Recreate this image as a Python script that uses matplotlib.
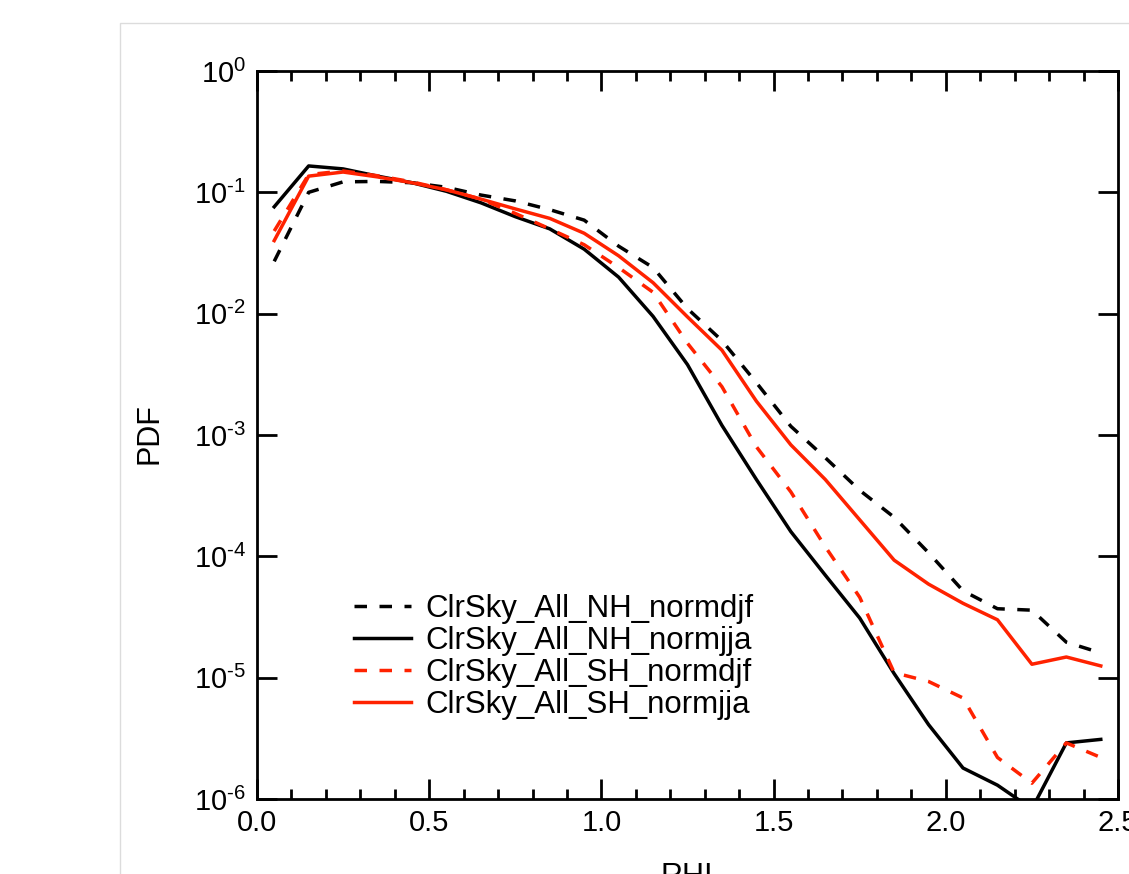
import matplotlib
matplotlib.use("Agg")
import matplotlib.pyplot as plt
from matplotlib.patches import Rectangle
from matplotlib.ticker import FixedLocator, MultipleLocator, FixedFormatter

plt.rcParams['font.family'] = ['Liberation Sans', 'DejaVu Sans']
plt.rcParams['mathtext.fontset'] = 'custom'
plt.rcParams['mathtext.rm'] = 'Liberation Sans'
plt.rcParams['mathtext.it'] = 'Liberation Sans:italic'
plt.rcParams['mathtext.bf'] = 'Liberation Sans:bold'

# ---- data ----
rhi = [0.05, 0.15, 0.25, 0.35, 0.45, 0.55, 0.65, 0.75, 0.85, 0.95,
       1.05, 1.15, 1.25, 1.35, 1.45, 1.55, 1.65, 1.75, 1.85, 1.95,
       2.05, 2.15, 2.25, 2.35, 2.45]

nh_djf = [0.027, 0.10, 0.122, 0.123, 0.12, 0.11, 0.095, 0.085, 0.072, 0.059,
          0.036, 0.024, 0.011, 0.0060, 0.0027, 0.00118, 0.00065, 0.00035, 0.00021, 0.000107,
          5.2e-5, 3.7e-5, 3.6e-5, 1.96e-5, 1.6e-5]
nh_jja = [0.076, 0.165, 0.156, 0.136, 0.12, 0.102, 0.082, 0.063, 0.050, 0.034,
          0.020, 0.0095, 0.0038, 0.0012, 0.00043, 0.00016, 7.0e-5, 3.1e-5, 1.08e-5, 4.1e-6,
          1.8e-6, 1.3e-6, 8.3e-7, 2.9e-6, 3.1e-6]
sh_djf = [0.048, 0.14, 0.15, 0.137, 0.122, 0.105, 0.088, 0.067, 0.050, 0.037,
          0.024, 0.015, 0.0057, 0.0025, 0.0008, 0.00034, 0.00012, 4.6e-5, 1.1e-5, 9.3e-6,
          6.8e-6, 2.2e-6, 1.35e-6, 2.9e-6, 2.2e-6]
sh_jja = [0.040, 0.136, 0.147, 0.134, 0.12, 0.105, 0.088, 0.073, 0.061, 0.046,
          0.030, 0.018, 0.0094, 0.0050, 0.0019, 0.00083, 0.00043, 0.00020, 9.3e-5, 5.9e-5,
          4.1e-5, 3.0e-5, 1.29e-5, 1.48e-5, 1.25e-5]

labels = ['ClrSky_All_NH_normdjf', 'ClrSky_All_NH_normjja',
          'ClrSky_All_SH_normdjf', 'ClrSky_All_SH_normjja']
xticks = [0.0, 0.5, 1.0, 1.5, 2.0, 2.5]
xticklabels = ['0.0', '0.5', '1.0', '1.5', '2.0', '2.5']
yticks = [1e-6, 1e-5, 1e-4, 1e-3, 1e-2, 1e-1, 1e0]
yticklabels = [r'$10^{\text{-}6}$', r'$10^{\text{-}5}$', r'$10^{\text{-}4}$',
               r'$10^{\text{-}3}$', r'$10^{\text{-}2}$', r'$10^{\text{-}1}$',
               r'$10^{0}$']

RED = '#ff2200'

fig = plt.figure(figsize=(11.29, 8.74), dpi=100)
# light page border (extends beyond the visible canvas)
fig.patches.append(Rectangle((120/1129, -0.2), 1.0, 0.2 + 1 - 23/874,
                             transform=fig.transFigure, fill=False,
                             edgecolor='#dcdcdc', linewidth=1.0))

ax = fig.add_axes([257/1129, 1 - 799/874, (1118-257)/1129, (799-71)/874])

lw = 2.5
dash = (0, (3.6, 3.6))
ax.plot(rhi, nh_djf, color='black', lw=lw, linestyle=dash, label=labels[0])
ax.plot(rhi, nh_jja, color='black', lw=lw, label=labels[1])
ax.plot(rhi, sh_djf, color=RED, lw=lw, linestyle=dash, label=labels[2])
ax.plot(rhi, sh_jja, color=RED, lw=lw, label=labels[3])

ax.set_yscale('log')
ax.set_xlim(0, 2.5)
ax.set_ylim(1e-6, 1e0)

ax.xaxis.set_major_locator(FixedLocator(xticks))
ax.xaxis.set_major_formatter(FixedFormatter(xticklabels))
ax.xaxis.set_minor_locator(MultipleLocator(0.1))
ax.yaxis.set_major_locator(FixedLocator(yticks))
ax.yaxis.set_major_formatter(FixedFormatter(yticklabels))
ax.yaxis.set_minor_locator(FixedLocator([]))

for sp in ax.spines.values():
    sp.set_linewidth(2.0)

ax.tick_params(axis='both', which='both', direction='in', top=True, right=True,
               width=2.0, labelsize=21)
ax.tick_params(axis='both', which='major', length=14.5)
ax.tick_params(axis='x', which='minor', length=7.5)
ax.tick_params(axis='x', which='major', pad=7)
ax.tick_params(axis='y', which='major', pad=8)

leg = ax.legend(loc='upper left', bbox_to_anchor=(0.113, 0.282), frameon=False,
                fontsize=22.5, handlelength=1.8, handletextpad=0.48,
                labelspacing=0.07, borderpad=0, borderaxespad=0)

fig.text(150/1129, 1 - 434/874, 'PDF', rotation=90, ha='center', va='center',
         fontsize=22)
fig.text(687/1129, 1 - 862/874, 'RHI', ha='center', va='top', fontsize=22)

fig.savefig('out.png', dpi=100)
